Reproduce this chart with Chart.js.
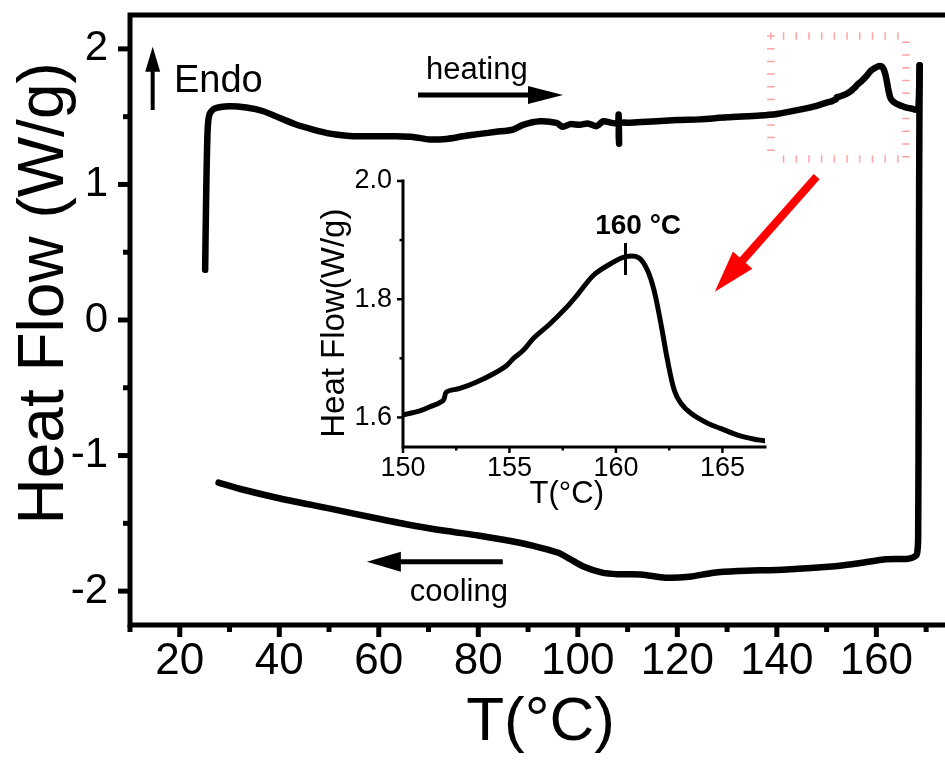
<!DOCTYPE html>
<html>
<head>
<meta charset="utf-8">
<title>DSC heat flow</title>
<script src="https://cdn.jsdelivr.net/npm/chart.js@4.4.1/dist/chart.umd.min.js"></script>
<style>
  html, body { margin: 0; padding: 0; background: #fff; overflow: hidden; }
  #wrap { position: relative; width: 945px; height: 760px; overflow: hidden; }
  #main { position: absolute; left: 0; top: 0; }
  #inset { position: absolute; left: 310px; top: 165px; }
</style>
</head>
<body>
<div id="wrap">
  <canvas id="main" width="960" height="760"></canvas>
  <canvas id="inset" width="470" height="350"></canvas>
</div>
<script>
// heating run (T in °C, heat flow in W/g)
const heatT = [25.1, 25.3, 25.6, 26.0, 27.0, 30.0, 33.4, 36.8, 40.1, 43.5, 46.8, 50.2, 53.5, 56.8, 60.2, 63.5,
  66.9, 70.2, 73.6, 76.9, 80.3, 83.6, 87.0, 89.0, 92.4, 95.7, 97.0, 98.5, 100.4, 102.0, 103.8, 105.1, 106.8,
  108.0, 108.2, 108.3, 108.4, 110.5, 115, 120, 124.5, 130, 136.6, 140, 144.6, 148,
  150, 150.79, 151.26, 151.89, 152.04, 152.67, 153.46, 154.25, 154.87, 155.19, 155.66, 156.13, 156.92,
  157.70, 158.18, 158.96, 159.75, 160.46, 161.08, 161.48, 161.79, 162.11, 162.42, 162.74, 163.05, 163.52,
  164.31, 164.94, 165.72, 166.51, 167.06, 167.7, 168.4, 168.7];
const heatHF = [0.37, 0.9, 1.40, 1.52, 1.56, 1.577, 1.567, 1.54, 1.49, 1.44, 1.405, 1.375, 1.36, 1.355, 1.355, 1.355,
  1.35, 1.332, 1.336, 1.355, 1.373, 1.388, 1.405, 1.44, 1.466, 1.454, 1.425, 1.445, 1.44, 1.45, 1.43, 1.466, 1.454,
  1.45, 1.515, 1.30, 1.45, 1.455, 1.465, 1.475, 1.48, 1.495, 1.508, 1.52, 1.552, 1.58,
  1.604, 1.611, 1.618, 1.629, 1.643, 1.649, 1.660, 1.674, 1.688, 1.700, 1.714, 1.734, 1.759,
  1.787, 1.807, 1.841, 1.860, 1.872, 1.870, 1.849, 1.815, 1.759, 1.697, 1.646, 1.624, 1.607,
  1.590, 1.581, 1.570, 1.563, 1.560, 1.553, 1.55, 1.88];

// cooling run, starting at the top of the switch-over
const coolT = [168.7, 168.6, 168.5, 168.4, 168.2, 167.8, 166.4, 161.5, 156.5, 151.7, 142.0, 132.2, 127.3, 122.4,
  117.6, 112.7, 108, 104.9, 101.0, 98.5, 96.1, 92, 88.3, 80, 73.7, 66, 59.0, 50, 39.5, 32, 27.8];
const coolHF = [1.88, 1.0, -0.5, -1.6, -1.72, -1.742, -1.761, -1.766, -1.795, -1.816, -1.84, -1.852, -1.864, -1.894,
  -1.901, -1.877, -1.875, -1.864, -1.816, -1.765, -1.717, -1.675, -1.643, -1.59, -1.557, -1.51, -1.459, -1.39, -1.311, -1.245, -1.2];

const xTicks = [20, 40, 60, 80, 100, 120, 140, 160];
const xMinor = [10, 30, 50, 70, 90, 110, 130, 150, 170];
const yTicks = [-2, -1, 0, 1, 2];
const yMinor = [-1.5, -0.5, 0.5, 1.5];

const insetXTicks = [150, 155, 160, 165];
const insetXMinor = [152.5, 157.5, 162.5];
const insetYTicks = [1.6, 1.8, 2.0];
const insetYMinor = [1.7, 1.9];

const peakT = 160.45;
const peakLabel = '160 °C';

const FONT = '"Liberation Sans", Arial, Helvetica, sans-serif';

const pts = (xs, ys) => xs.map((x, i) => ({ x: x, y: ys[i] }));

function lineSet(label, xs, ys, width, tension) {
  return {
    label: label, data: pts(xs, ys), showLine: true, borderColor: '#000', backgroundColor: '#000',
    borderWidth: width, pointRadius: 0, tension: tension, borderCapStyle: 'round', borderJoinStyle: 'round'
  };
}

// fixed axis box sizes, no extra room for half labels
function fixSize(w, h) {
  return s => {
    if (w != null) s.width = w;
    if (h != null) s.height = h;
    s.paddingTop = 0; s.paddingBottom = 0; s.paddingLeft = 0; s.paddingRight = 0;
  };
}

function arrow(ctx, x1, y1, x2, y2, w, headLen, headHalf, color) {
  const ang = Math.atan2(y2 - y1, x2 - x1);
  const bx = x2 - Math.cos(ang) * headLen, by = y2 - Math.sin(ang) * headLen;
  ctx.save();
  ctx.strokeStyle = color; ctx.fillStyle = color; ctx.lineWidth = w;
  ctx.beginPath(); ctx.moveTo(x1, y1); ctx.lineTo(bx + Math.cos(ang) * 2, by + Math.sin(ang) * 2); ctx.stroke();
  ctx.beginPath();
  ctx.moveTo(x2, y2);
  ctx.lineTo(bx + Math.sin(ang) * headHalf, by - Math.cos(ang) * headHalf);
  ctx.lineTo(bx - Math.sin(ang) * headHalf, by + Math.cos(ang) * headHalf);
  ctx.closePath(); ctx.fill();
  ctx.restore();
}

// frame + major/minor tick marks, drawn outward
function axisMarks(o) {
  return {
    id: 'axisMarks',
    afterDraw(chart) {
      const { ctx, chartArea: a, scales: { x, y } } = chart;
      ctx.save();
      ctx.strokeStyle = '#000';
      ctx.lineWidth = o.frame;
      ctx.lineCap = 'square';
      ctx.beginPath();
      if (o.box) {
        ctx.rect(a.left, a.top, a.right - a.left, a.bottom - a.top);
      } else {
        ctx.moveTo(a.left, a.top); ctx.lineTo(a.left, a.bottom); ctx.lineTo(a.right, a.bottom);
      }
      ctx.stroke();
      ctx.lineWidth = o.tick;
      ctx.lineCap = 'butt';
      const tx = (vals, len) => vals.forEach(v => {
        const p = x.getPixelForValue(v);
        ctx.beginPath(); ctx.moveTo(p, a.bottom); ctx.lineTo(p, a.bottom + len); ctx.stroke();
      });
      const ty = (vals, len) => vals.forEach(v => {
        const p = y.getPixelForValue(v);
        ctx.beginPath(); ctx.moveTo(a.left, p); ctx.lineTo(a.left - len, p); ctx.stroke();
      });
      tx(o.xMajor, o.major); tx(o.xMinor, o.minor);
      ty(o.yMajor, o.major); ty(o.yMinor, o.minor);
      ctx.restore();
    }
  };
}

// arrows, labels and the pink zoom box on the main plot (positions in data units)
const mainNotes = {
  id: 'mainNotes',
  beforeDatasetsDraw(chart) {
    const { ctx, scales: { x, y } } = chart;
    const L = x.getPixelForValue(138.8), R = x.getPixelForValue(165.95);
    const T = y.getPixelForValue(2.095), B = y.getPixelForValue(1.188);
    const step = 12.7, d = 3.8;
    ctx.save();
    ctx.strokeStyle = 'rgba(255, 90, 90, 0.55)';
    ctx.lineWidth = 1.5;
    ctx.beginPath();
    for (let p = L; p <= R - 5; p += step) { ctx.moveTo(p, T - d); ctx.lineTo(p, T + d); }
    for (let p = T; p <= B - 5; p += step) { ctx.moveTo(L - d, p); ctx.lineTo(L + d, p); }
    for (let p = L + step; p <= R - 5; p += step) { ctx.moveTo(p, B - d); ctx.lineTo(p, B + d); }
    for (let p = T + step / 2; p <= B; p += step) { ctx.moveTo(R - d, p); ctx.lineTo(R + d, p); }
    ctx.stroke();
    ctx.restore();
  },
  afterDraw(chart) {
    const { ctx, scales: { x, y } } = chart;
    const X = v => x.getPixelForValue(v), Y = v => y.getPixelForValue(v);
    arrow(ctx, X(14.56), Y(1.549), X(14.56), Y(2.016), 4, 25, 7.5, '#000');
    arrow(ctx, X(67.88), Y(1.66), X(97.02), Y(1.66), 5, 35, 9, '#000');
    arrow(ctx, X(84.92), Y(-1.783), X(57.61), Y(-1.783), 5, 34, 10, '#000');
    arrow(ctx, X(148.0), Y(1.057), X(127.53), Y(0.209), 8, 42, 13, '#ff0000');
    ctx.save();
    ctx.fillStyle = '#000';
    ctx.textBaseline = 'alphabetic';
    ctx.font = '38px ' + FONT;
    ctx.textAlign = 'left';
    ctx.fillText('Endo', X(18.84), Y(1.684));
    ctx.font = '31px ' + FONT;
    ctx.fillText('heating', X(69.49), Y(1.778));
    ctx.textAlign = 'center';
    ctx.fillText('cooling', X(76.08), Y(-2.073));
    ctx.restore();
  }
};

const insetNotes = {
  id: 'insetNotes',
  afterDraw(chart) {
    const { ctx, scales: { x, y } } = chart;
    ctx.save();
    ctx.strokeStyle = '#000';
    ctx.lineWidth = 3;
    ctx.beginPath();
    ctx.moveTo(x.getPixelForValue(peakT), y.getPixelForValue(1.895));
    ctx.lineTo(x.getPixelForValue(peakT), y.getPixelForValue(1.841));
    ctx.stroke();
    ctx.fillStyle = '#000';
    ctx.font = 'bold 28px ' + FONT;
    ctx.textAlign = 'center';
    ctx.textBaseline = 'alphabetic';
    ctx.fillText(peakLabel, x.getPixelForValue(161.04), y.getPixelForValue(1.910));
    ctx.restore();
  }
};

new Chart(document.getElementById('main'), {
  type: 'scatter',
  data: {
    datasets: [
      lineSet('heating', heatT, heatHF, 6.5, 0.25),
      lineSet('cooling', coolT, coolHF, 6.5, 0.25)
    ]
  },
  options: {
    responsive: false, animation: false, devicePixelRatio: 1,
    layout: { padding: { top: 15, right: 9, left: 0, bottom: 0 } },
    plugins: { legend: { display: false }, tooltip: { enabled: false } },
    scales: {
      x: {
        type: 'linear', min: 10, max: 175,
        afterBuildTicks: s => { s.ticks = xTicks.map(v => ({ value: v })); },
        afterFit: fixSize(null, 135),
        grid: { display: false, drawTicks: false }, border: { display: false },
        ticks: { color: '#000', font: { family: FONT, size: 44 }, padding: 10, maxRotation: 0, autoSkip: false },
        title: { display: true, text: 'T(°C)', color: '#000', font: { family: FONT, size: 62 }, padding: { top: 0, bottom: 0 } }
      },
      y: {
        type: 'linear', min: -2.25, max: 2.25,
        afterBuildTicks: s => { s.ticks = yTicks.map(v => ({ value: v })); },
        afterFit: fixSize(130, null),
        grid: { display: false, drawTicks: false }, border: { display: false },
        ticks: { color: '#000', font: { family: FONT, size: 42 }, padding: 22, autoSkip: false },
        title: { display: true, text: '   Heat Flow (W/g)', color: '#000', font: { family: FONT, size: 64 }, padding: { top: 7, bottom: 0 } }
      }
    }
  },
  plugins: [
    mainNotes,
    axisMarks({ box: true, frame: 5, tick: 5, major: 12, minor: 7, xMajor: xTicks, xMinor: xMinor, yMajor: yTicks, yMinor: yMinor })
  ]
});

const insetSet = lineSet('heating', heatT, heatHF, 5, 0.35);
insetSet.clip = 0;

new Chart(document.getElementById('inset'), {
  type: 'scatter',
  data: { datasets: [insetSet] },
  options: {
    responsive: false, animation: false, devicePixelRatio: 1,
    layout: { padding: { top: 16, right: 15, left: 0, bottom: 0 } },
    plugins: { legend: { display: false }, tooltip: { enabled: false } },
    scales: {
      x: {
        type: 'linear', min: 150, max: 167,
        afterBuildTicks: s => { s.ticks = insetXTicks.map(v => ({ value: v })); },
        afterFit: fixSize(null, 68),
        grid: { display: false, drawTicks: false }, border: { display: false },
        ticks: { color: '#000', font: { family: FONT, size: 27 }, padding: 5, maxRotation: 0, autoSkip: false },
        title: { display: true, text: 'T(°C)    ', color: '#000', font: { family: FONT, size: 31 }, padding: { top: 0, bottom: 2 } }
      },
      y: {
        type: 'linear', min: 1.55, max: 2.0,
        afterBuildTicks: s => { s.ticks = insetYTicks.map(v => ({ value: v })); },
        afterFit: fixSize(93, null),
        grid: { display: false, drawTicks: false }, border: { display: false },
        ticks: { color: '#000', font: { family: FONT, size: 27 }, padding: 11, autoSkip: false, callback: v => v.toFixed(1) },
        title: { display: true, text: 'Heat Flow(W/g)  ', color: '#000', font: { family: FONT, size: 33 }, padding: { top: 5, bottom: 0 } }
      }
    }
  },
  plugins: [
    axisMarks({ box: false, frame: 3, tick: 2.5, major: 6, minor: 3.5, xMajor: insetXTicks, xMinor: insetXMinor, yMajor: insetYTicks, yMinor: insetYMinor }),
    insetNotes
  ]
});
</script>
</body>
</html>
